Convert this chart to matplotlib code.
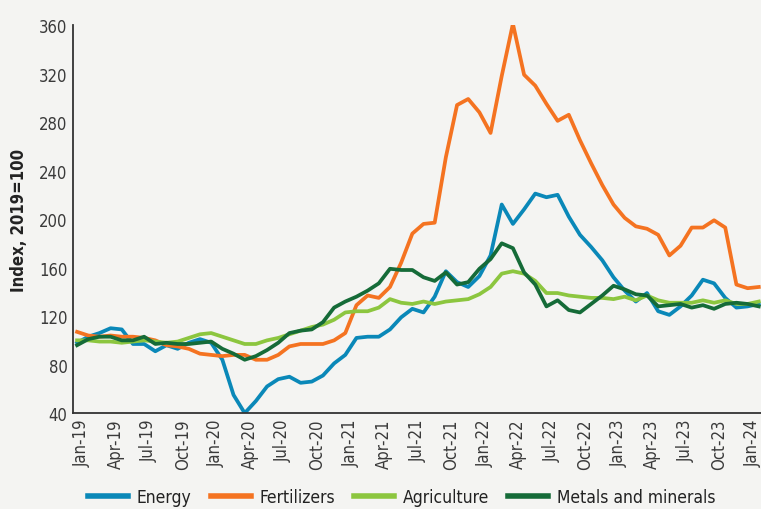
import matplotlib
matplotlib.use("Agg")
import matplotlib.pyplot as plt
import matplotlib.transforms as mtransforms

# monthly index values, Jan-19 .. Feb-24 (2019=100)
energy = [98, 103, 106, 110, 109, 97, 97, 91, 96, 93, 98, 101, 98, 84, 55, 40, 50, 62,
          68, 70, 65, 66, 71, 81, 88, 102, 103, 103, 109, 119, 126, 123, 136, 157, 148,
          144, 153, 170, 212, 196, 208, 221, 218, 220, 202, 187, 177, 166, 152, 141, 132,
          139, 124, 121, 128, 137, 150, 147, 135, 127, 128, 130]
fertilizers = [107, 104, 103, 104, 103, 103, 102, 100, 96, 95, 93, 89, 88, 87, 88, 88, 84,
               84, 88, 95, 97, 97, 97, 100, 106, 129, 137, 135, 144, 164, 188, 196, 197,
               251, 294, 299, 288, 271, 318, 361, 319, 310, 295, 281, 286, 265, 246, 228,
               212, 201, 194, 192, 187, 170, 178, 193, 193, 199, 193, 146, 143, 144]
agriculture = [100, 100, 99, 99, 98, 99, 100, 99, 98, 99, 102, 105, 106, 103, 100, 97, 97,
               100, 102, 105, 108, 111, 113, 117, 123, 124, 124, 127, 134, 131, 130, 132,
               130, 132, 133, 134, 138, 144, 155, 157, 155, 149, 139, 139, 137, 136, 135,
               135, 134, 136, 133, 137, 133, 131, 131, 131, 133, 131, 133, 130, 130, 132]
metals = [96, 101, 103, 103, 100, 100, 103, 97, 98, 97, 97, 98, 99, 93, 89, 84, 87, 92, 98,
          106, 108, 109, 115, 127, 132, 136, 141, 147, 159, 158, 158, 152, 149, 156, 146,
          148, 159, 167, 180, 176, 156, 146, 128, 133, 125, 123, 130, 137, 145, 142, 138,
          137, 128, 129, 130, 127, 129, 126, 130, 131, 130, 128]

tick_labels = ["Jan-19", "Apr-19", "Jul-19", "Oct-19", "Jan-20", "Apr-20", "Jul-20",
               "Oct-20", "Jan-21", "Apr-21", "Jul-21", "Oct-21", "Jan-22", "Apr-22",
               "Jul-22", "Oct-22", "Jan-23", "Apr-23", "Jul-23", "Oct-23", "Jan-24"]

bg = "#f4f4f2"
plt.rcParams["font.family"] = ["DejaVu Sans"]
plt.rcParams["font.stretch"] = "condensed"

fig = plt.figure(figsize=(7.61, 5.10), dpi=100, facecolor=bg)
ax = fig.add_axes([0.096, 0.188, 0.904, 0.761], facecolor=bg)

months = list(range(len(energy)))
ax.plot(months, energy, color="#0a88b8", lw=2.7, label="Energy")
ax.plot(months, fertilizers, color="#f47321", lw=2.7, label="Fertilizers")
ax.plot(months, agriculture, color="#8cc63f", lw=2.7, label="Agriculture")
ax.plot(months, metals, color="#156b38", lw=2.7, label="Metals and minerals")

ax.set_xlim(-0.36, 61.2)
ax.set_ylim(40, 360)
ax.set_yticks(range(40, 361, 40))
ax.set_xticks(range(0, 61, 3))
ax.set_xticklabels(tick_labels, rotation=90)

for s in ["top", "right"]:
    ax.spines[s].set_visible(False)
for s in ["left", "bottom"]:
    ax.spines[s].set_color("#333333")
    ax.spines[s].set_linewidth(1.3)
ax.tick_params(length=0, labelsize=12, colors="#3a3a3a", pad=4)

# labels sit a little right of their month in the original
shift = mtransforms.ScaledTranslation(0.05, 0, fig.dpi_scale_trans)
for lab in ax.get_xticklabels():
    lab.set_transform(lab.get_transform() + shift)

ax.set_ylabel("Index, 2019=100", fontsize=12, fontweight="bold", color="#222222",
              labelpad=8)

fig.legend(loc="lower center", bbox_to_anchor=(0.528, -0.025), ncol=4, frameon=False,
           fontsize=12.5, handlelength=2.3, columnspacing=1.1, handletextpad=0.5,
           labelcolor="#222222")
for line in fig.legends[0].get_lines():
    line.set_linewidth(4)

fig.savefig("out.png", dpi=100, facecolor=bg)
